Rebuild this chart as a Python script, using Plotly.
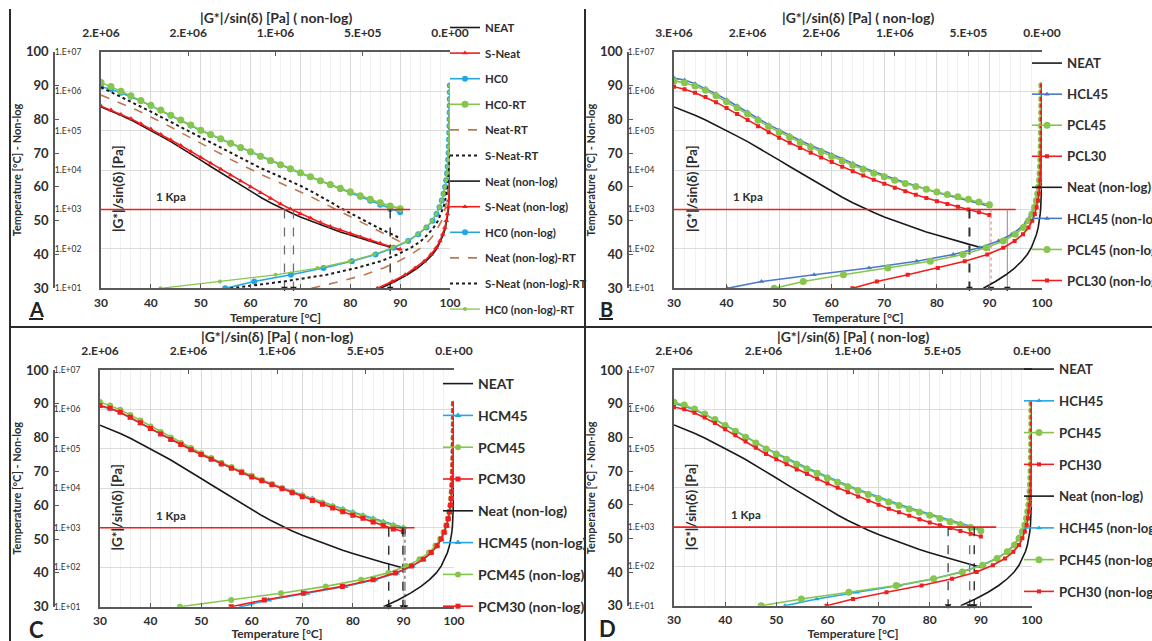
import plotly.graph_objects as go

W, H = 1152, 641
FONT = "Lato"
INK = "#2e2e2e"

# ---------------------------------------------------------------- data
# Test temperatures [°C]
temps = [30, 32, 34, 36, 38, 40, 42, 44, 46, 48, 50, 52, 54, 56, 58, 60,
         62, 64, 66, 68, 70, 72, 74, 76, 78, 80, 82, 84, 86, 88, 90]

# log10 of |G*|/sin(δ) [Pa] at each temperature
neat = [5.60, 5.50, 5.39, 5.27, 5.14, 5.00, 4.86, 4.72, 4.57, 4.41, 4.25, 4.09, 3.93, 3.77, 3.61, 3.46,
        3.31, 3.17, 3.04, 2.92, 2.81, 2.71, 2.61, 2.52, 2.43, 2.35, 2.27, 2.19, 2.12, 2.05, 1.98]
s_neat = [5.62, 5.52, 5.41, 5.30, 5.17, 5.04, 4.90, 4.76, 4.62, 4.47, 4.32, 4.17, 4.02, 3.87, 3.72, 3.57,
          3.42, 3.28, 3.14, 3.01, 2.89, 2.78, 2.67, 2.57, 2.48, 2.39, 2.30, 2.22, 2.14, 2.06, 1.99]
hc0 = [6.11, 6.05, 5.96, 5.86, 5.75, 5.63, 5.51, 5.38, 5.26, 5.13, 5.00, 4.89, 4.78, 4.67, 4.56, 4.45,
       4.34, 4.23, 4.12, 4.02, 3.92, 3.82, 3.72, 3.62, 3.52, 3.42, 3.32, 3.22, 3.12, 3.01, 2.93]
hc0_rt = [6.22, 6.12, 6.00, 5.88, 5.76, 5.64, 5.52, 5.39, 5.27, 5.14, 5.01, 4.90, 4.79, 4.68, 4.57, 4.46,
          4.35, 4.24, 4.13, 4.03, 3.93, 3.83, 3.73, 3.63, 3.54, 3.45, 3.35, 3.26, 3.17, 3.09, 3.02]
neat_rt = [5.90, 5.80, 5.69, 5.58, 5.47, 5.35, 5.22, 5.09, 4.95, 4.82, 4.68, 4.54, 4.41, 4.27, 4.14, 4.01,
           3.89, 3.78, 3.67, 3.56, 3.45, 3.33, 3.20, 3.07, 2.94, 2.81, 2.68, 2.56, 2.44, 2.31, 2.18]
s_neat_rt = [6.10, 5.98, 5.85, 5.73, 5.60, 5.48, 5.35, 5.22, 5.10, 4.97, 4.84, 4.71, 4.57, 4.44, 4.30, 4.17,
             4.05, 3.94, 3.83, 3.72, 3.60, 3.47, 3.34, 3.19, 3.04, 2.90, 2.77, 2.64, 2.51, 2.39, 2.27]

hcl45 = [6.33, 6.28, 6.19, 6.07, 5.93, 5.78, 5.63, 5.47, 5.31, 5.15, 5.01, 4.88, 4.75, 4.63, 4.51, 4.39,
         4.28, 4.17, 4.06, 3.96, 3.86, 3.77, 3.68, 3.59, 3.51, 3.43, 3.36, 3.29, 3.22, 3.15, 3.08]
pcl45 = [6.26, 6.21, 6.13, 6.02, 5.88, 5.73, 5.58, 5.42, 5.26, 5.10, 4.96, 4.83, 4.70, 4.58, 4.46, 4.34,
         4.23, 4.12, 4.02, 3.92, 3.83, 3.74, 3.66, 3.58, 3.51, 3.44, 3.38, 3.32, 3.26, 3.19, 3.12]
pcl30 = [6.11, 6.05, 5.96, 5.85, 5.72, 5.57, 5.42, 5.27, 5.11, 4.96, 4.82, 4.69, 4.56, 4.44, 4.32, 4.20,
         4.08, 3.97, 3.86, 3.75, 3.65, 3.55, 3.46, 3.37, 3.29, 3.21, 3.14, 3.07, 3.00, 2.93, 2.86]

hcm45 = [6.08, 6.02, 5.92, 5.79, 5.65, 5.51, 5.37, 5.24, 5.11, 4.98, 4.86, 4.74, 4.63, 4.52, 4.41, 4.31,
         4.21, 4.11, 4.01, 3.92, 3.83, 3.74, 3.65, 3.56, 3.48, 3.40, 3.32, 3.24, 3.16, 3.08, 3.01]
pcm45 = [6.19, 6.10, 5.99, 5.86, 5.72, 5.57, 5.43, 5.29, 5.15, 5.02, 4.89, 4.77, 4.65, 4.54, 4.43, 4.32,
         4.21, 4.11, 4.01, 3.91, 3.82, 3.72, 3.63, 3.54, 3.46, 3.37, 3.29, 3.21, 3.13, 3.05, 2.98]
pcm30 = [6.10, 6.03, 5.93, 5.80, 5.66, 5.52, 5.38, 5.24, 5.11, 4.98, 4.86, 4.74, 4.62, 4.51, 4.40, 4.29,
         4.19, 4.09, 3.99, 3.89, 3.79, 3.69, 3.60, 3.50, 3.41, 3.32, 3.24, 3.15, 3.06, 2.97, 2.90]

hch45 = [6.14, 6.08, 5.99, 5.87, 5.74, 5.60, 5.45, 5.30, 5.15, 5.01, 4.88, 4.75, 4.63, 4.51, 4.40, 4.28,
         4.17, 4.06, 3.96, 3.86, 3.76, 3.67, 3.58, 3.49, 3.41, 3.33, 3.25, 3.17, 3.10, 3.02, 2.95]
pch45 = [6.18, 6.11, 6.01, 5.88, 5.74, 5.59, 5.44, 5.29, 5.14, 4.99, 4.86, 4.73, 4.60, 4.48, 4.37, 4.25,
         4.14, 4.03, 3.93, 3.83, 3.73, 3.64, 3.55, 3.46, 3.38, 3.30, 3.22, 3.14, 3.06, 2.99, 2.91]
pch30 = [6.06, 6.00, 5.91, 5.79, 5.65, 5.49, 5.34, 5.18, 5.02, 4.86, 4.73, 4.60, 4.47, 4.35, 4.23, 4.11,
         4.00, 3.89, 3.78, 3.67, 3.57, 3.47, 3.38, 3.29, 3.20, 3.12, 3.05, 2.98, 2.90, 2.83, 2.76]

# Temperatures where each binder reaches 1 kPa
crit_a = [66.8, 68.6, 88.0]
crit_b = [86.2, 90.3, 93.4]
crit_c = [87.1, 89.9, 90.3]
crit_d = [83.6, 87.8, 88.7]

# 1 kPa criterion
kpa_level = 1e3
kpa_end = [92.0, 95.0, 92.2, 93.0]

# Axis tick values / labels
log_ticks = [1e1, 1e2, 1e3, 1e4, 1e5, 1e6, 1e7]
log_labels = ["1.E+01", "1.E+02", "1.E+03", "1.E+04", "1.E+05", "1.E+06", "1.E+07"]
top_ticks_2m = [2e6, 1.5e6, 1e6, 5e5, 0]
top_labels_2m = ["2.E+06", "2.E+06", "1.E+06", "5.E+05", "0.E+00"]
top_ticks_25m = [2.5e6, 2e6, 1.5e6, 1e6, 5e5, 0]
top_labels_25m = ["3.E+06", "2.E+06", "2.E+06", "1.E+06", "5.E+05", "0.E+00"]

# ---------------------------------------------------------------- styles
RED = "#F01E1E"
CYAN = "#22A7E3"
STEEL = "#4A78C6"
GREEN = "#86C64E"
BROWN = "#BC7A4C"
BLACK = "#1A1A1A"
AXIS = "#595959"


def style(color, symbol=None, size=6, dash="solid", width=1.6):
    return dict(color=color, symbol=symbol, size=size, dash=dash, width=width)


panels = [
    dict(letter="A", x0=101, x1=450, top=51.7, bot=288.3, outer=54, gmax=2e6,
         tvals=top_ticks_2m, ttext=top_labels_2m, crit=crit_a,
         crit_style=[("#6e6e6e", "dash", 1.3), ("#6e6e6e", "dash", 1.3), (BLACK, "dash", 1.3)],
         legend=dict(x=445, y=13, gap=6.6, size=11.4),
         log=[("NEAT", neat, style(BLACK)),
              ("S-Neat", s_neat, style(RED, "triangle-up", 5)),
              ("HC0", hc0, style(CYAN, "circle", 6)),
              ("HC0-RT", hc0_rt, style(GREEN, "circle", 7)),
              ("Neat-RT", neat_rt, style(BROWN, dash="dash")),
              ("S-Neat-RT", s_neat_rt, style(BLACK, dash="dot", width=2))],
         lin=[("Neat (non-log)", neat, style(BLACK)),
              ("S-Neat (non-log)", s_neat, style(RED, "triangle-up", 5)),
              ("HC0 (non-log)", hc0, style(CYAN, "circle", 6)),
              ("Neat (non-log)-RT", neat_rt, style(BROWN, dash="dash")),
              ("S-Neat (non-log)-RT", s_neat_rt, style(BLACK, dash="dot", width=2)),
              ("HC0 (non-log)-RT", hc0_rt, style(GREEN, "circle", 4, width=1.3))]),
    dict(letter="B", x0=674, x1=1042, top=51.7, bot=288.3, outer=628, gmax=2.5e6,
         tvals=top_ticks_25m, ttext=top_labels_25m, crit=crit_b,
         crit_style=[("#303030", "dash", 2), ("#d09090", "dot", 1.2), ("#8a8a8a", "solid", 1)],
         legend=dict(x=1027, y=48, gap=10.9, size=13.2),
         log=[("NEAT", neat, style(BLACK)),
              ("HCL45", hcl45, style(STEEL, "triangle-up", 5)),
              ("PCL45", pcl45, style(GREEN, "circle", 7)),
              ("PCL30", pcl30, style(RED, "square", 4))],
         lin=[("Neat (non-log)", neat, style(BLACK)),
              ("HCL45 (non-log)", hcl45, style(STEEL, "triangle-up", 5)),
              ("PCL45 (non-log)", pcl45, style(GREEN, "circle", 7)),
              ("PCL30 (non-log)", pcl30, style(RED, "square", 4))]),
    dict(letter="C", x0=100, x1=454, top=370, bot=606.7, outer=54, gmax=2e6,
         tvals=top_ticks_2m, ttext=top_labels_2m, crit=crit_c,
         crit_style=[(BLACK, "dash", 1.3), (BLACK, "dash", 1.3), ("#707070", "dashdot", 1.3)],
         legend=dict(x=438, y=368, gap=10.6, size=14),
         log=[("NEAT", neat, style(BLACK)),
              ("HCM45", hcm45, style(CYAN, "triangle-up", 6)),
              ("PCM45", pcm45, style(GREEN, "circle", 6)),
              ("PCM30", pcm30, style(RED, "square", 5))],
         lin=[("Neat (non-log)", neat, style(BLACK)),
              ("HCM45 (non-log)", hcm45, style(CYAN, "triangle-up", 6)),
              ("PCM45 (non-log)", pcm45, style(GREEN, "circle", 6)),
              ("PCM30 (non-log)", pcm30, style(RED, "square", 5))]),
    dict(letter="D", x0=674, x1=1032, top=370, bot=605.7, outer=628, gmax=2e6,
         tvals=top_ticks_2m, ttext=top_labels_2m, crit=crit_d,
         crit_style=[("#404040", "dash", 1.3), ("#707070", "dash", 1.3), (BLACK, "dash", 1.3)],
         legend=dict(x=1019, y=354, gap=11.6, size=13.2),
         log=[("NEAT", neat, style(BLACK)),
              ("HCH45", hch45, style(CYAN, "triangle-up", 5)),
              ("PCH45", pch45, style(GREEN, "circle", 7)),
              ("PCH30", pch30, style(RED, "square", 4))],
         lin=[("Neat (non-log)", neat, style(BLACK)),
              ("HCH45 (non-log)", hch45, style(CYAN, "triangle-up", 5)),
              ("PCH45 (non-log)", pch45, style(GREEN, "circle", 7)),
              ("PCH30 (non-log)", pch30, style(RED, "square", 4))]),
]


def fx(x):
    return x / W


def fy(y):
    return 1 - y / H


def ref(kind, n):
    return kind + ("" if n == 1 else str(n))


def key(kind, n):
    return kind + "axis" + ("" if n == 1 else str(n))


def bold(size, color=INK):
    return dict(family=FONT, size=size, color=color, weight="bold")


def pa(values):
    return [10 ** v for v in values]


fig = go.Figure()
layout = {}
annotations = []
shapes = []

for i, p in enumerate(panels):
    nb, nt = 2 * i + 1, 2 * i + 2
    leg = "legend" if i == 0 else f"legend{i + 1}"

    # |G*|/sin(δ) on log scale against temperature
    for name, vals, s in p["log"]:
        mode = "lines+markers" if s["symbol"] else "lines"
        fig.add_trace(go.Scatter(
            x=temps, y=pa(vals), name=name, mode=mode, legend=leg, legendgroup=f"{p['letter']}-{name}",
            xaxis=ref("x", nb), yaxis=ref("y", nb),
            line=dict(color=s["color"], dash=s["dash"], width=s["width"]),
            marker=dict(symbol=s["symbol"] or "circle", size=s["size"], color=s["color"])))

    # temperature against |G*|/sin(δ) on linear scale
    for name, vals, s in p["lin"]:
        mode = "lines+markers" if s["symbol"] else "lines"
        fig.add_trace(go.Scatter(
            x=pa(vals), y=temps, name=name, mode=mode, legend=leg, legendgroup=f"{p['letter']}-{name}",
            xaxis=ref("x", nt), yaxis=ref("y", nt),
            line=dict(color=s["color"], dash=s["dash"], width=s["width"]),
            marker=dict(symbol=s["symbol"] or "circle", size=s["size"], color=s["color"])))

    # 1 kPa criterion line
    fig.add_trace(go.Scatter(
        x=[temps[0], kpa_end[i]], y=[kpa_level, kpa_level], mode="lines", showlegend=False,
        xaxis=ref("x", nb), yaxis=ref("y", nb), line=dict(color=RED, width=1.6)))

    # drop lines from the criterion to the temperature axis
    for tc, (col, dash, wd) in zip(p["crit"], p["crit_style"]):
        fig.add_trace(go.Scatter(
            x=[tc, tc], y=[kpa_level, log_ticks[0]], mode="lines", showlegend=False,
            xaxis=ref("x", nb), yaxis=ref("y", nb), line=dict(color=col, dash=dash, width=wd)))
    fig.add_trace(go.Scatter(
        x=p["crit"], y=[log_ticks[0]] * len(p["crit"]), mode="markers", showlegend=False,
        cliponaxis=False, xaxis=ref("x", nb), yaxis=ref("y", nb),
        marker=dict(symbol="triangle-down", size=6, color=BLACK)))

    dom_x = [fx(p["x0"]), fx(p["x1"])]
    dom_y = [fy(p["bot"]), fy(p["top"])]

    layout[key("x", nb)] = dict(
        domain=dom_x, anchor=ref("y", nb), range=[30, 100], dtick=10, tick0=30,
        showline=True, linecolor=AXIS, linewidth=1.8, ticks="inside", ticklen=4, tickcolor=AXIS,
        showgrid=True, gridcolor="#d9d9d9", gridwidth=1, zeroline=False,
        minor=dict(dtick=2, showgrid=True, gridcolor="#f1f1f1", gridwidth=1),
        tickfont=bold(12), ticklabelstandoff=2,
        title=dict(text="Temperature [°C]", font=bold(12), standoff=2))
    layout[key("x", nt)] = dict(
        overlaying=ref("x", nb), anchor=ref("y", nb), side="top", range=[p["gmax"], 0],
        tickvals=p["tvals"], ticktext=p["ttext"], showline=True, linecolor=AXIS, linewidth=1.8,
        ticks="inside", ticklen=4, tickcolor=AXIS, showgrid=False, zeroline=False,
        tickfont=bold(12), ticklabelstandoff=8)
    layout[key("y", nb)] = dict(
        domain=dom_y, anchor=ref("x", nb), type="log", range=[1, 7],
        tickvals=log_ticks, ticktext=log_labels, showline=True, linecolor=AXIS, linewidth=1.8,
        ticks="", showgrid=True, gridcolor="#dcdcdc", zeroline=False,
        tickfont=dict(family=FONT, size=8.5, color=INK), ticklabelstandoff=16)
    layout[key("y", nt)] = dict(
        overlaying=ref("y", nb), anchor="free", position=fx(p["outer"]), side="left",
        range=[30, 100], dtick=10, tick0=30, showline=True, linecolor=AXIS, linewidth=1.5,
        ticks="inside", ticklen=4, tickcolor=AXIS, showgrid=False, zeroline=False,
        tickfont=bold(13), ticklabelstandoff=2,
        title=dict(text="Temperature [°C] - Non-log", font=bold(11), standoff=1))

    lg = p["legend"]
    layout[leg] = dict(
        x=fx(lg["x"]), y=fy(lg["y"]), xanchor="left", yanchor="top", bgcolor="rgba(0,0,0,0)",
        font=bold(lg["size"]), tracegroupgap=lg["gap"], itemwidth=30, traceorder="grouped")

    annotations += [
        # title of the linear |G*|/sin(δ) axis along the top
        dict(x=(dom_x[0] + dom_x[1]) / 2, y=fy(p["top"] - 34), xref="paper", yref="paper",
             text="|G*|/sin(δ) [Pa] ( non-log)", showarrow=False, font=bold(14),
             xanchor="center", yanchor="middle"),
        dict(x=44, y=3.32, xref=ref("x", nb), yref=ref("y", nb), text="1 Kpa", showarrow=False,
             font=bold(11.5), xanchor="center", yanchor="middle"),
        dict(x=33.3, y=3.53, xref=ref("x", nb), yref=ref("y", nb), text="|G*|/sin(δ) [Pa]",
             showarrow=False, textangle=-90, font=bold(13.5), xanchor="center", yanchor="middle"),
    ]

# panel letters
letter_pos = [(36, 309, 20, True), (606, 309, 20, True), (36, 629, 22, False), (607, 628, 22, False)]
for p, (lx, ly, fs, underline) in zip(panels, letter_pos):
    annotations.append(dict(x=fx(lx), y=fy(ly), xref="paper", yref="paper", text=p["letter"],
                            showarrow=False, font=bold(fs, "#222222"), xanchor="center", yanchor="middle"))
    if underline:
        shapes.append(dict(type="line", xref="paper", yref="paper", x0=fx(lx - 7), x1=fx(lx + 7),
                           y0=fy(319), y1=fy(319), line=dict(color="#222222", width=2)))

# panel frame
frame = dict(color="#2b2b2b", width=2)
shapes += [
    dict(type="line", xref="paper", yref="paper", x0=fx(10), x1=fx(10), y0=fy(9), y1=0, line=frame),
    dict(type="line", xref="paper", yref="paper", x0=fx(585), x1=fx(585), y0=fy(9), y1=0, line=frame),
    dict(type="line", xref="paper", yref="paper", x0=fx(10), x1=1, y0=fy(327), y1=fy(327), line=frame),
]

fig.update_layout(
    width=W, height=H, margin=dict(l=0, r=0, t=0, b=0, autoexpand=False),
    paper_bgcolor="white", plot_bgcolor="white",
    font=dict(family=FONT, color=INK),
    annotations=annotations, shapes=shapes, **layout)

fig.write_html("out.html")
